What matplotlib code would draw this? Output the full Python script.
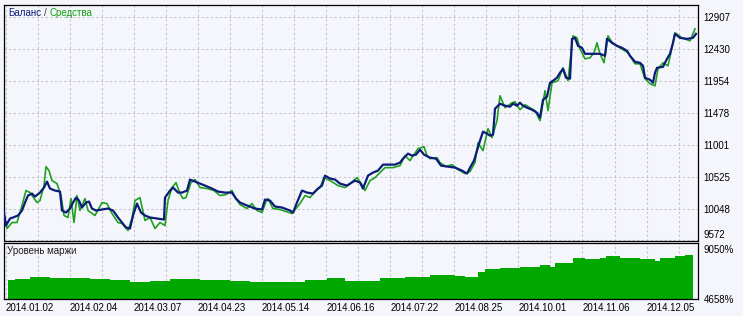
"""MT4 strategy tester report: balance / equity and margin level."""

import matplotlib
matplotlib.use('Agg')
import matplotlib.pyplot as plt

# chart position (trade sequence) and account values
balance_pos = [4, 6, 10, 13, 18, 22, 25, 28, 32, 35, 40, 44, 47, 50, 55, 60, 62, 66, 70, 73,
               76, 79, 82, 86, 89, 92, 96, 102, 108, 113, 118, 122, 126, 130, 133, 137, 141, 145,
               150, 157, 164, 165, 170, 173, 178, 182, 187, 190, 195, 200, 205, 212, 218, 225,
               232, 236, 240, 247, 255, 262, 265, 270, 275, 282, 290, 293, 297, 302, 307, 313,
               318, 322, 325, 330, 335, 340, 347, 355, 360, 363, 368, 373, 378, 383, 388, 395,
               400, 403, 408, 412, 416, 420, 424, 430, 436, 441, 448, 455, 462, 467, 470, 474,
               477, 480, 483, 487, 490, 493, 495, 500, 505, 510, 513, 517, 520, 523, 527, 532,
               537, 540, 543, 547, 550, 553, 557, 560, 563, 566, 570, 572, 575, 578, 582, 585,
               590, 595, 600, 605, 607, 612, 617, 622, 627, 630, 635, 640, 643, 645, 650, 653,
               655, 657, 663, 667, 670, 673, 675, 680, 687, 693, 696]
balance = [9989, 9796, 9900, 9915, 9945, 10019, 10138, 10242, 10272, 10227, 10287, 10362, 10451,
           10347, 10317, 10302, 10019, 9989, 10049, 10138, 10212, 10168, 10064, 10138, 10153,
           10049, 10019, 10034, 10049, 10019, 9915, 9840, 9766, 9751, 9945, 10123, 9989, 9945,
           9915, 9900, 9885, 10212, 10317, 10362, 10287, 10287, 10317, 10481, 10451, 10421,
           10391, 10347, 10302, 10287, 10287, 10198, 10138, 10094, 10049, 10034, 10183, 10168,
           10079, 10064, 10019, 9989, 10138, 10317, 10287, 10272, 10347, 10391, 10540, 10496,
           10481, 10421, 10391, 10466, 10436, 10347, 10540, 10585, 10615, 10704, 10704, 10704,
           10734, 10793, 10868, 10838, 10853, 10927, 10853, 10808, 10793, 10689, 10674, 10659,
           10615, 10570, 10659, 10764, 10912, 11061, 11195, 11166, 11136, 11151, 11538, 11613,
           11583, 11568, 11613, 11583, 11627, 11583, 11553, 11523, 11478, 11404, 11672, 11716,
           11925, 11955, 12000, 12074, 12133, 12000, 11985, 12580, 12595, 12476, 12446, 12357,
           12357, 12357, 12357, 12327, 12580, 12521, 12476, 12446, 12402, 12327, 12238, 12223,
           12178, 12000, 11970, 11925, 12074, 12148, 12163, 12282, 12357, 12521, 12655, 12595,
           12580, 12595, 12655]

equity_pos = [4, 7, 12, 17, 22, 26, 30, 37, 40, 44, 46, 49, 52, 57, 61, 64, 68, 71, 74, 77,
              80, 85, 88, 95, 102, 107, 112, 118, 122, 128, 132, 135, 140, 145, 150, 155, 160,
              165, 168, 172, 176, 180, 183, 186, 191, 195, 200, 207, 214, 220, 226, 232, 235,
              240, 247, 252, 257, 262, 266, 268, 273, 280, 286, 292, 296, 300, 305, 310, 316,
              320, 324, 330, 338, 345, 350, 357, 362, 365, 370, 375, 380, 385, 393, 400, 405,
              410, 418, 424, 427, 430, 437, 440, 446, 452, 458, 465, 470, 475, 478, 483, 488,
              492, 497, 500, 505, 512, 515, 520, 525, 530, 535, 540, 545, 548, 552, 558, 563,
              568, 573, 577, 580, 585, 590, 594, 597, 600, 604, 608, 613, 620, 628, 635, 640,
              645, 650, 655, 658, 663, 668, 672, 675, 682, 690, 695]
equity = [9945, 9751, 9840, 9840, 10094, 10317, 10287, 10138, 10168, 10391, 10674, 10615, 10466,
          10421, 10242, 9945, 9915, 10198, 9840, 10242, 10019, 10198, 10019, 9945, 10138, 10123,
          9974, 9840, 9826, 9721, 9900, 10168, 10212, 9870, 9915, 9751, 9840, 9796, 10168,
          10362, 10436, 10272, 10198, 10212, 10436, 10481, 10362, 10347, 10317, 10242, 10257,
          10317, 10212, 10108, 10049, 10123, 10019, 9989, 10153, 10198, 10049, 10034, 10004,
          9974, 10049, 10123, 10242, 10212, 10317, 10362, 10510, 10466, 10391, 10362, 10421,
          10510, 10406, 10317, 10466, 10510, 10585, 10659, 10659, 10689, 10838, 10764, 10942,
          10972, 10838, 10793, 10808, 10734, 10674, 10704, 10630, 10570, 10600, 10734, 11031,
          10912, 11240, 11106, 11359, 11731, 11553, 11627, 11642, 11523, 11597, 11553, 11508,
          11359, 11806, 11508, 11925, 11955, 12148, 11955, 12625, 12595, 12431, 12282, 12297,
          12372, 12521, 12357, 12223, 12625, 12506, 12446, 12372, 12208, 12208, 11985, 11910,
          11880, 12133, 12223, 12178, 12446, 12670, 12595, 12550, 12729]

margin_pos = [8, 15, 30, 50, 70, 90, 110, 130, 150, 170, 200, 230, 250, 290, 305, 327, 345,
              380, 405, 430, 455, 465, 478, 485, 500, 520, 540, 550, 555, 570, 573, 585, 600,
              606, 620, 640, 655, 660, 675, 685, 693]
margin_level = [6294, 6380, 6552, 6466, 6466, 6380, 6294, 6122, 6208, 6380, 6294, 6208, 6122,
                6122, 6294, 6466, 6208, 6466, 6552, 6724, 6638, 6552, 6983, 7241, 7327, 7413,
                7585, 7413, 7758, 7758, 8188, 8102, 8188, 8360, 8188, 8102, 7930, 8188, 8360,
                8446, 8533]

balance_ticks = [9572, 10048, 10525, 11001, 11478, 11954, 12430, 12907]
margin_ticks = [4658, 9050]
date_labels = ['2014.01.02', '2014.02.04', '2014.03.07', '2014.04.23', '2014.05.14',
               '2014.06.16', '2014.07.22', '2014.08.25', '2014.10.01', '2014.11.06',
               '2014.12.05']

BG = '#f5f6fc'
NAVY = '#0c1c78'
GREEN = '#20a020'
BAR_GREEN = '#00a800'
GRID = '#c4c4c8'
FONT = 'Liberation Sans'
FS = 7

plt.rcParams['font.family'] = [FONT, 'DejaVu Sans']

W, H = 743, 316
fig = plt.figure(figsize=(W / 100, H / 100), dpi=100, facecolor=BG)


def px_axes(left, top, right, bottom):
    return fig.add_axes([left / W, 1 - bottom / H, (right - left) / W, (bottom - top) / H])


ax = px_axes(4, 5, 698, 240.5)
ax2 = px_axes(4, 243, 698, 299)

grid_x = [5.6 + 32.05 * k for k in range(22)]

for a in (ax, ax2):
    a.set_facecolor(BG)
    a.set_xlim(4, 698)
    for s in a.spines.values():
        s.set_color('black')
        s.set_linewidth(0.9)
    a.set_xticks(grid_x)
    a.grid(True, color=GRID, linestyle=(0, (2.2, 2.2)), linewidth=0.75)
    a.set_axisbelow(True)
    a.yaxis.tick_right()
    a.tick_params(length=0, labelsize=FS, pad=4)

# balance / equity panel
ax.plot(equity_pos, equity, color=GREEN, linewidth=1.2, zorder=2)
ax.plot(balance_pos, balance, color=NAVY, linewidth=1.6, zorder=3)
ax.set_ylim(9572, 13085)
ax.set_yticks(balance_ticks)
ax.set_yticklabels([str(v) for v in balance_ticks])
ax.tick_params(axis='x', labelbottom=False)
ax.get_yticklabels()[0].set_verticalalignment('bottom')

# margin level panel
ax2.fill_between(margin_pos, margin_level, 4658, step='post', color=BAR_GREEN,
                 linewidth=0, zorder=2)
ax2.set_ylim(4658, 9530)
ax2.set_yticks(margin_ticks)
ax2.set_yticklabels([f'{v}%' for v in margin_ticks])
ax2.yaxis.grid(False)
ax2.set_xticklabels([date_labels[i // 2] if i % 2 == 0 else '' for i in range(len(grid_x))],
                    ha='left')
ax2.tick_params(axis='x', pad=3)

fig.text(8 / W, 1 - 13.5 / H, 'Баланс', color=NAVY, fontsize=FS, va='center')
fig.text(44 / W, 1 - 13.5 / H, '/', color='#303030', fontsize=FS, va='center')
fig.text(50 / W, 1 - 13.5 / H, 'Средства', color='#10a010', fontsize=FS, va='center')
fig.text(7 / W, 1 - 251 / H, 'Уровень маржи', color='#202020', fontsize=FS, va='center')

fig.savefig('out.png', dpi=100, facecolor=BG)
plt.close(fig)
